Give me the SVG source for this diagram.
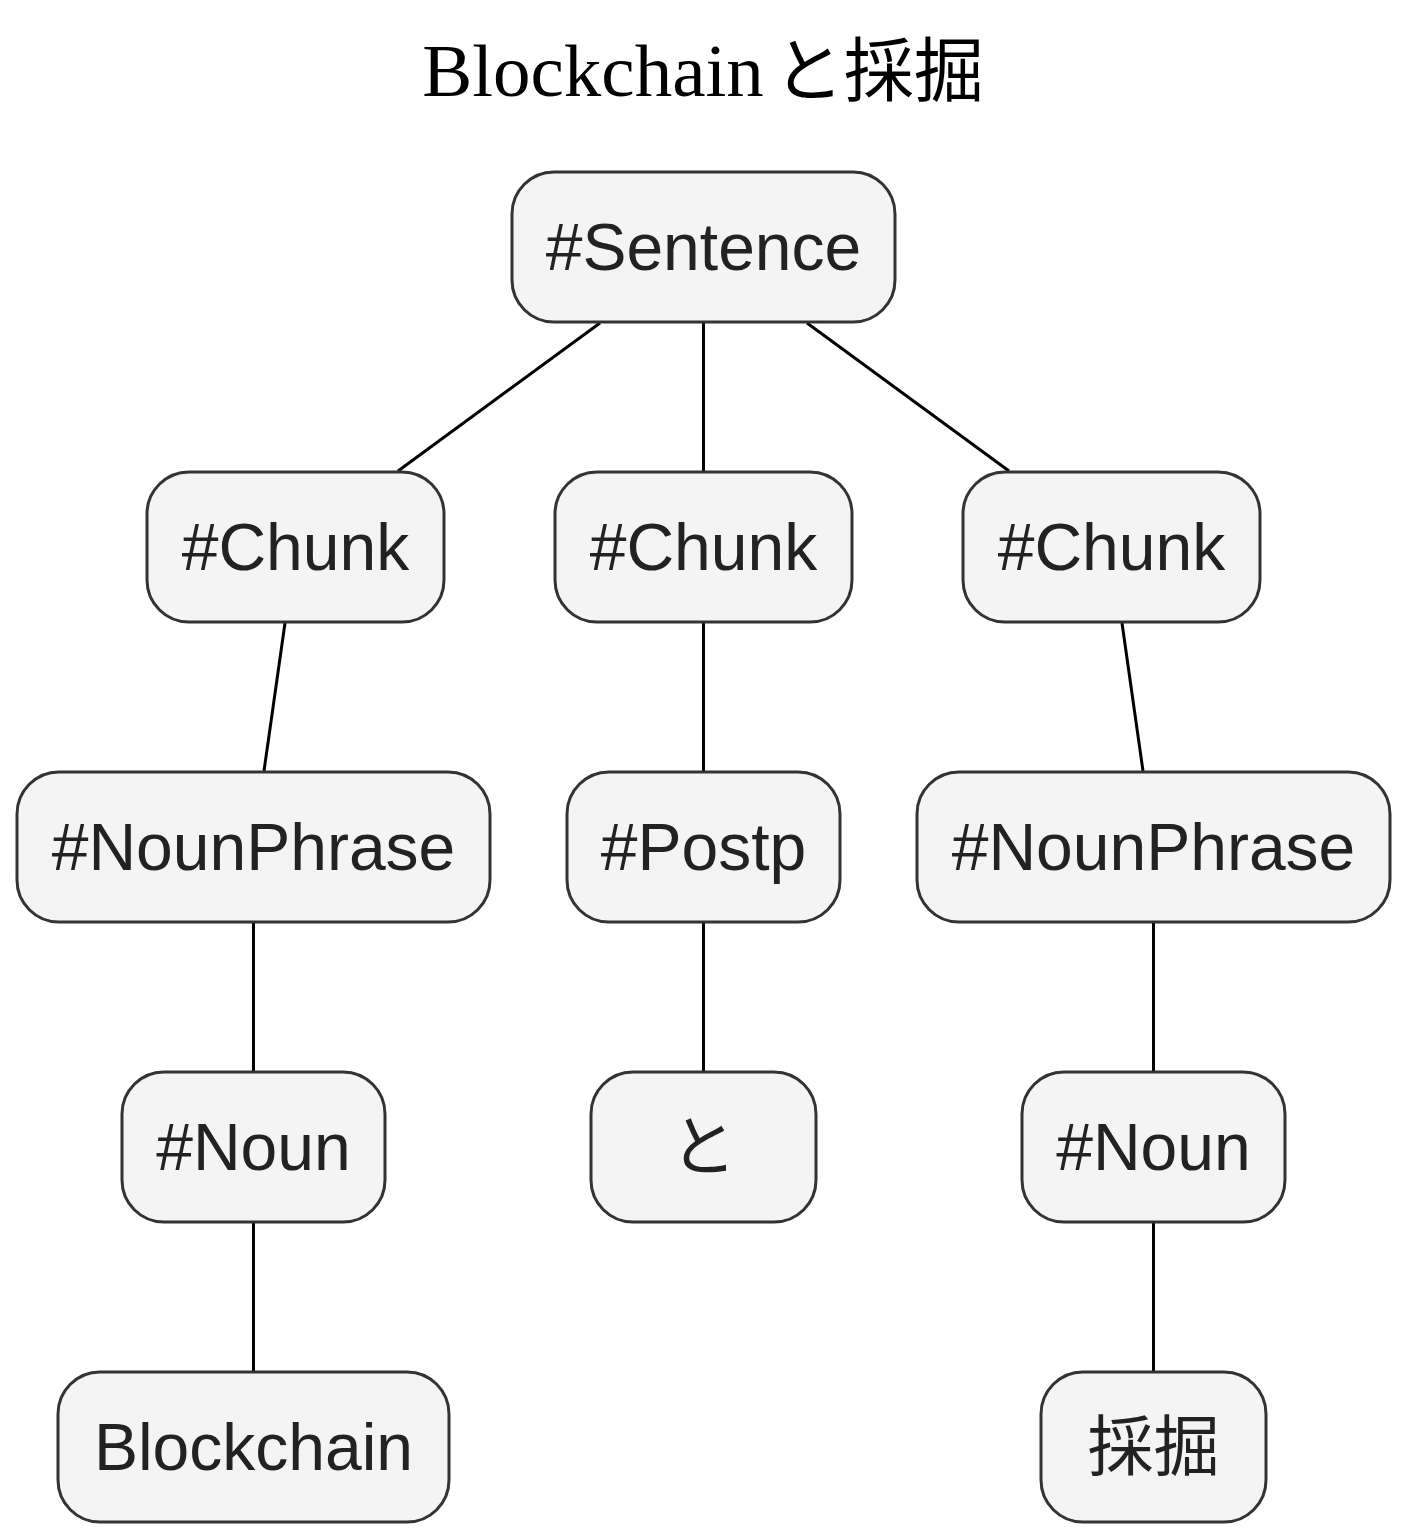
<svg xmlns="http://www.w3.org/2000/svg" width="1408" height="1539" viewBox="0 0 1408 1539">
<style>
.n{fill:#f4f4f4;stroke:#333;stroke-width:3}
.t{font-family:"Liberation Sans","Noto Sans CJK JP",Arial,sans-serif;font-size:66px;fill:#222;text-anchor:middle}
.e{stroke:#000;stroke-width:3;fill:none}
.title{font-family:"Liberation Serif","Noto Sans CJK JP",serif;font-size:75px;fill:#000;text-anchor:middle}
</style>
<rect width="1408" height="1539" fill="#fff"/>
<text class="title" x="703" y="96">Blockchain<tspan dx="10" font-size="70">と採掘</tspan></text>
<g id="edges">
<line class="e" x1="600" y1="323" x2="398" y2="471"/>
<line class="e" x1="703.5" y1="323" x2="703.5" y2="471"/>
<line class="e" x1="807" y1="323" x2="1009" y2="471"/>
<line class="e" x1="285" y1="623" x2="264" y2="771"/>
<line class="e" x1="703.5" y1="623" x2="703.5" y2="771"/>
<line class="e" x1="1122" y1="623" x2="1143" y2="771"/>
<line class="e" x1="253.5" y1="923" x2="253.5" y2="1071"/>
<line class="e" x1="703.5" y1="923" x2="703.5" y2="1071"/>
<line class="e" x1="1153.5" y1="923" x2="1153.5" y2="1071"/>
<line class="e" x1="253.5" y1="1223" x2="253.5" y2="1371"/>
<line class="e" x1="1153.5" y1="1223" x2="1153.5" y2="1371"/>
</g>
<g id="sentence"><rect class="n" x="512" y="172" width="383" height="150" rx="42"/><text class="t" x="703.5" y="270">#Sentence</text></g>
<g id="chunk1"><rect class="n" x="147" y="472" width="297" height="150" rx="42"/><text class="t" x="295.5" y="570">#Chunk</text></g>
<g id="chunk2"><rect class="n" x="555" y="472" width="297" height="150" rx="42"/><text class="t" x="703.5" y="570">#Chunk</text></g>
<g id="chunk3"><rect class="n" x="963" y="472" width="297" height="150" rx="42"/><text class="t" x="1111.5" y="570">#Chunk</text></g>
<g id="np1"><rect class="n" x="17" y="772" width="473" height="150" rx="42"/><text class="t" x="253.5" y="870">#NounPhrase</text></g>
<g id="postp"><rect class="n" x="567" y="772" width="273" height="150" rx="42"/><text class="t" x="703.5" y="870">#Postp</text></g>
<g id="np2"><rect class="n" x="917" y="772" width="473" height="150" rx="42"/><text class="t" x="1153.5" y="870">#NounPhrase</text></g>
<g id="noun1"><rect class="n" x="122" y="1072" width="263" height="150" rx="42"/><text class="t" x="253.5" y="1170">#Noun</text></g>
<g id="to"><rect class="n" x="591" y="1072" width="225" height="150" rx="42"/><text class="t" x="703.5" y="1170">と</text></g>
<g id="noun2"><rect class="n" x="1022" y="1072" width="263" height="150" rx="42"/><text class="t" x="1153.5" y="1170">#Noun</text></g>
<g id="blockchain"><rect class="n" x="58" y="1372" width="391" height="150" rx="42"/><text class="t" x="253.5" y="1470">Blockchain</text></g>
<g id="saikutsu"><rect class="n" x="1041" y="1372" width="225" height="150" rx="42"/><text class="t" x="1153.5" y="1470">採掘</text></g>
</svg>
